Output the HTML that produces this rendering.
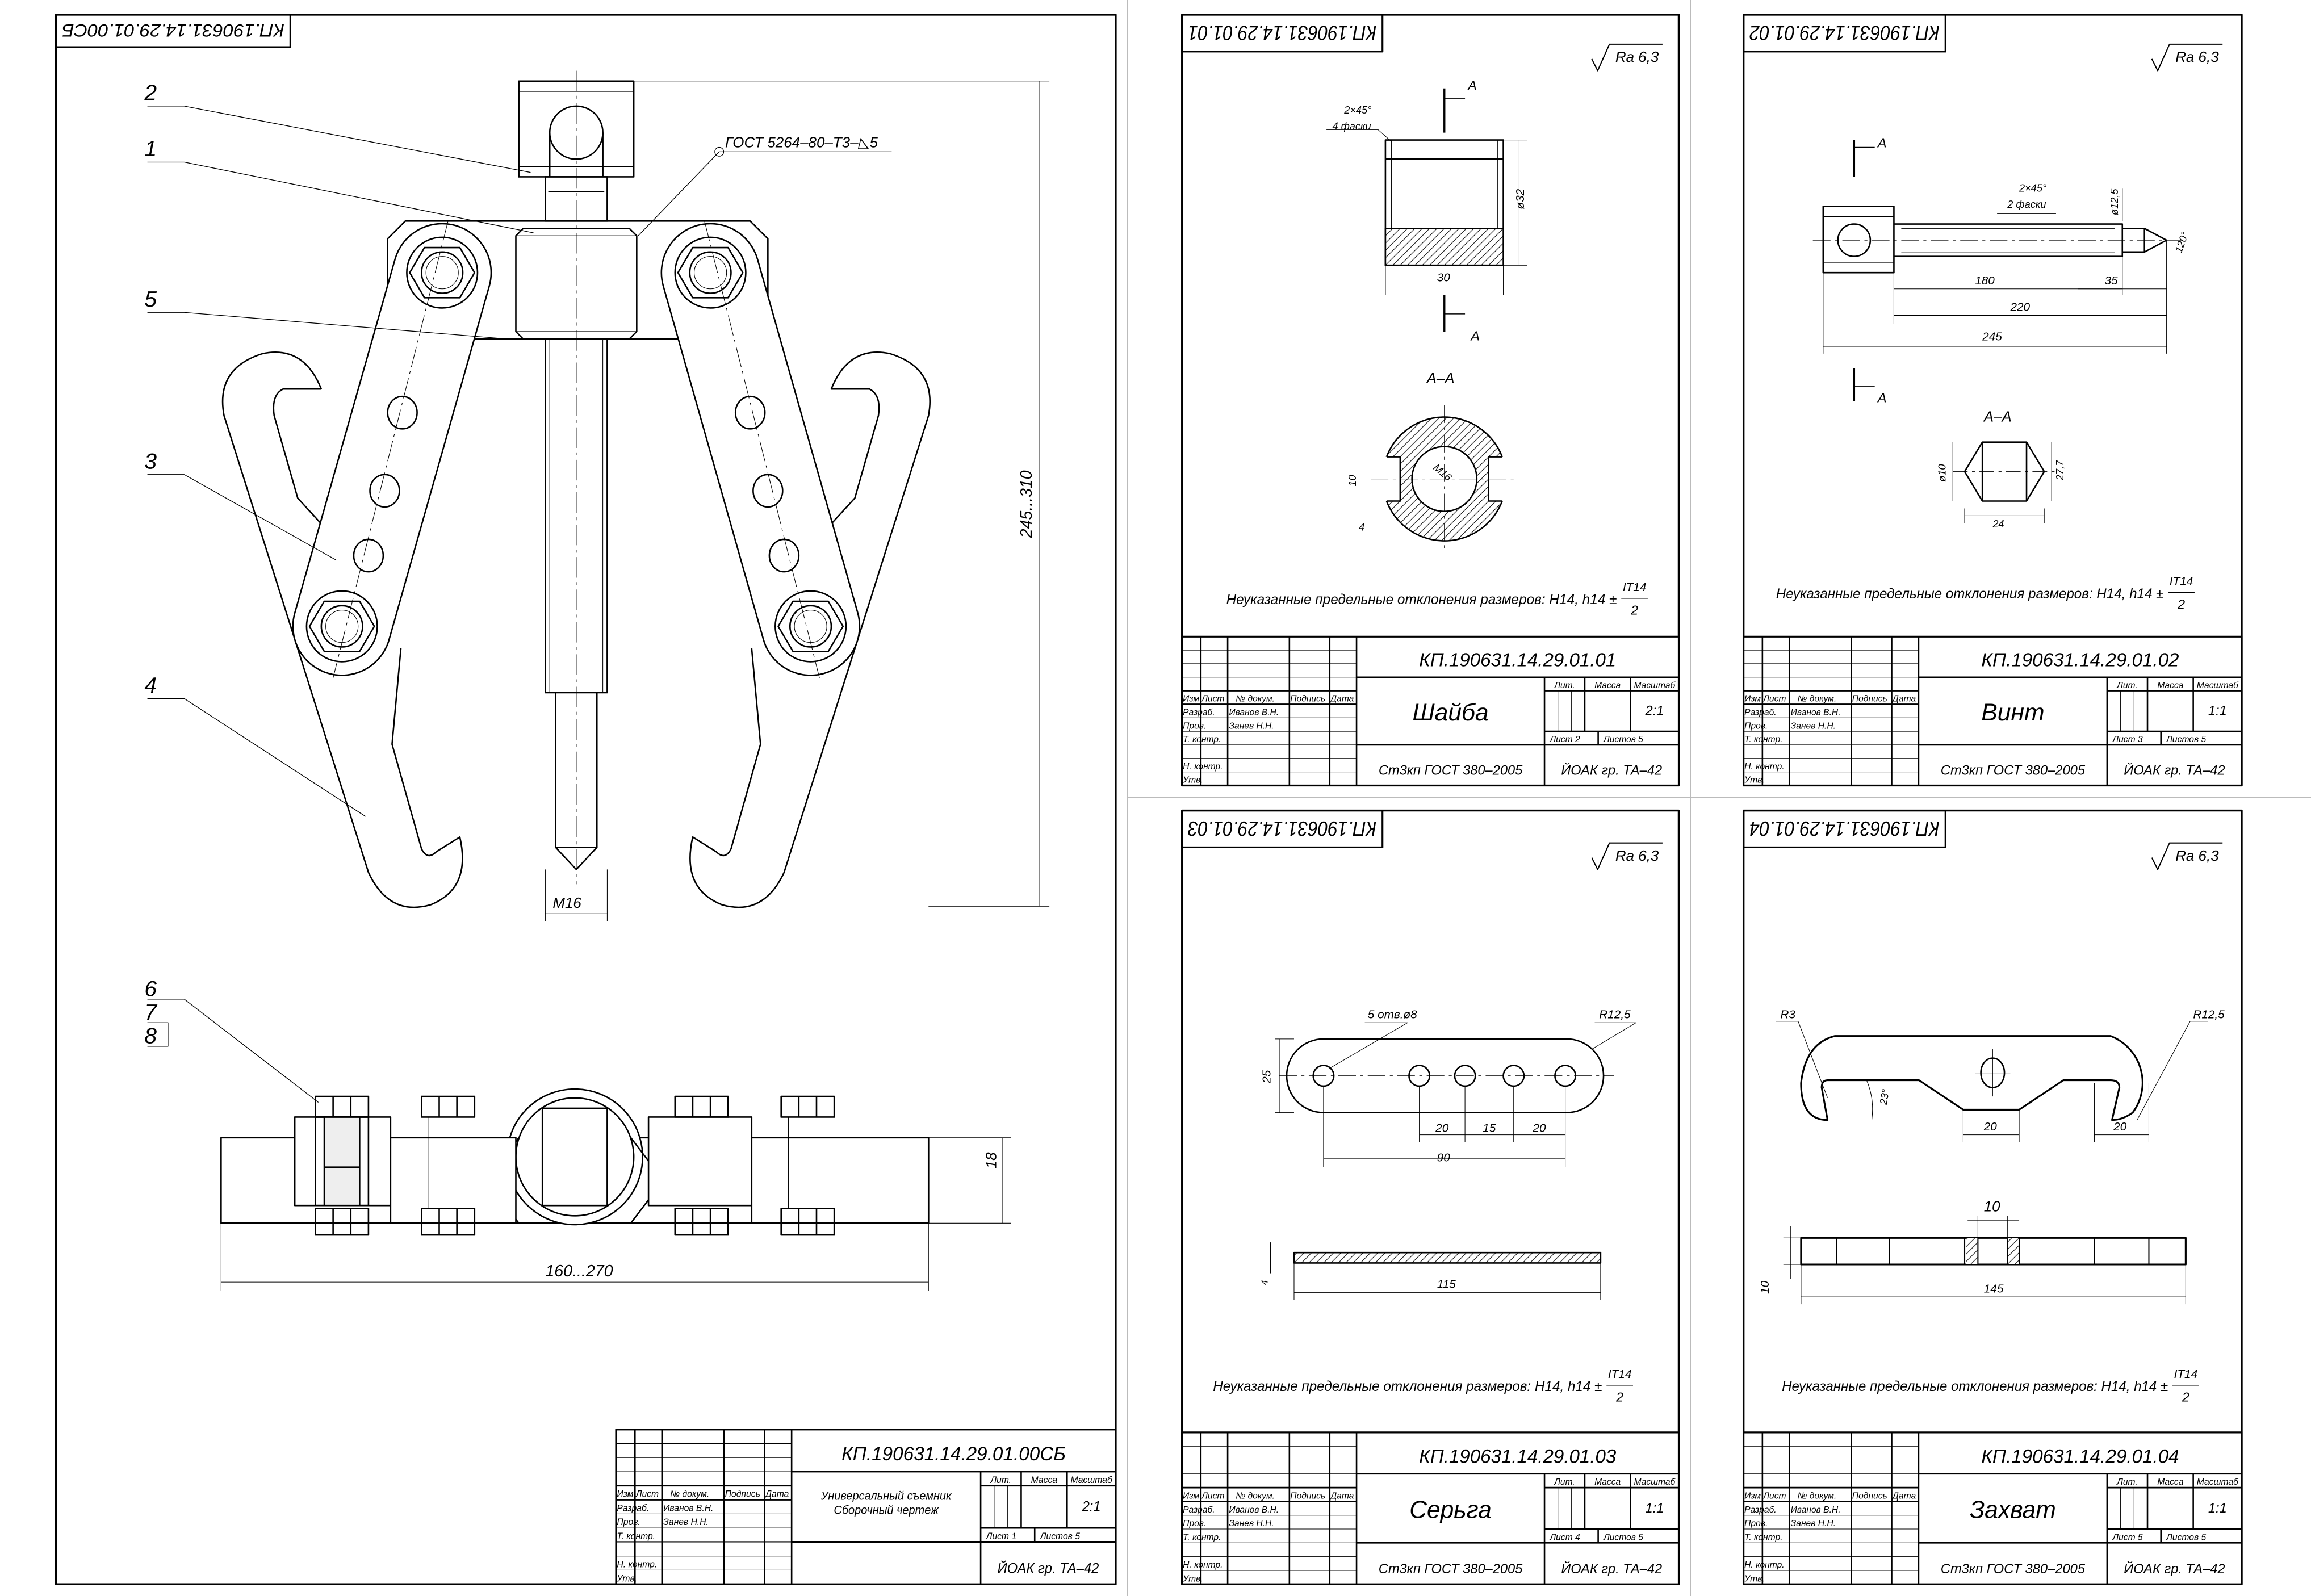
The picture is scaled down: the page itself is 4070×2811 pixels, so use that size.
<!DOCTYPE html>
<html><head><meta charset="utf-8">
<style>
html,body{margin:0;padding:0;background:#fff}
svg{display:block}
text{font-family:"Liberation Sans",sans-serif;font-style:italic;fill:#000}
</style></head><body>
<svg id="s" xmlns="http://www.w3.org/2000/svg" width="4070" height="2811" viewBox="0 0 1568 1083" preserveAspectRatio="none">
<defs>
 <pattern id="h" patternUnits="userSpaceOnUse" width="5" height="5">
  <rect width="5" height="5" fill="#fff"/>
  <path d="M0,5 L5,0 M-1,1 L1,-1 M4,6 L6,4" stroke="#000" stroke-width="0.4"/>
 </pattern>
</defs>
<rect width="1568" height="1083" fill="#fff"/>
<g id="root" fill="none" stroke="#000" stroke-width="1" stroke-linejoin="round">
<line x1="765" y1="0" x2="765" y2="1083" stroke="#bbb" stroke-width="0.6"/>
<line x1="1147" y1="0" x2="1147" y2="1083" stroke="#bbb" stroke-width="0.6"/>
<line x1="765" y1="541" x2="1568" y2="541" stroke="#bbb" stroke-width="0.6"/>

<rect x="38" y="10" width="719" height="1065" stroke-width="1.3"/>
<rect x="802" y="10" width="337" height="523" stroke-width="1.3"/>
<rect x="1183" y="10" width="338" height="523" stroke-width="1.3"/>
<rect x="802" y="550" width="337" height="525" stroke-width="1.3"/>
<rect x="1183" y="550" width="338" height="525" stroke-width="1.3"/>

<g id="main">
 <rect x="352" y="55" width="78" height="65"/>
 <line x1="352" y1="62" x2="430" y2="62" stroke-width="0.5"/>
 <line x1="352" y1="113" x2="430" y2="113" stroke-width="0.5"/>
 <circle cx="391" cy="90" r="18"/>
 <line x1="373" y1="90" x2="373" y2="120"/><line x1="409" y1="90" x2="409" y2="120"/>
 <rect x="370" y="120" width="42" height="30"/>
 <line x1="372" y1="130" x2="410" y2="130" stroke-width="0.5"/>
 <path d="M275,150 L509,150 L521,162 L521,230 L263,230 L263,162 Z"/>
 <path d="M355,155 L427,155 L432,160 L432,225 L427,230 L355,230 L350,225 L350,160 Z" fill="#fff"/>
 <line x1="350" y1="160" x2="432" y2="160" stroke-width="0.5"/>
 <line x1="350" y1="225" x2="432" y2="225" stroke-width="0.5"/>
 <rect x="370" y="230" width="42" height="240" fill="#fff"/>
 <line x1="373" y1="230" x2="373" y2="470" stroke-width="0.4"/>
 <line x1="409" y1="230" x2="409" y2="470" stroke-width="0.4"/>
 <path d="M377,470 L377,575 L391,590 L405,575 L405,470"/>
 <line x1="377" y1="575" x2="405" y2="575" stroke-width="0.5"/>
 <line x1="391" y1="48" x2="391" y2="600" stroke-width="0.4" stroke-dasharray="14,3,2,3"/>

 <g id="jaw">
  <path d="M218,264 Q206,234 178,240 Q146,250 152,282 L250,592 Q264,622 292,614 Q320,603 312,568 L296,578 Q290,584 286,576 L266,505 L272,440" fill="#fff"/>
  <path d="M218,264 L192,264 Q184,268 186,282 L202,338 L224,362"/>
  <path d="M268,176 A33,33 0 0 1 332,194 L264,434 A33,33 0 0 1 200,416 Z" fill="#fff"/>
  <line x1="304" y1="150" x2="226" y2="460" stroke-width="0.4" stroke-dasharray="14,3,2,3"/>
  <circle cx="300" cy="185" r="24"/>
  <polygon points="288,168 312,168 322,185 312,202 288,202 278,185"/>
  <circle cx="300" cy="185" r="14"/><circle cx="300" cy="185" r="11" stroke-width="0.4"/>
  <circle cx="232" cy="425" r="24"/>
  <polygon points="220,408 244,408 254,425 244,442 220,442 210,425"/>
  <circle cx="232" cy="425" r="14"/><circle cx="232" cy="425" r="11" stroke-width="0.4"/>
  <ellipse cx="273" cy="280" rx="10" ry="11"/>
  <ellipse cx="261" cy="333" rx="10" ry="11"/>
  <ellipse cx="250" cy="377" rx="10" ry="11"/>
 </g>
 <use href="#jaw" transform="translate(782,0) scale(-1,1)"/>

 <g stroke-width="0.5">
  <polyline points="100,72 125,72 360,117"/>
  <polyline points="100,110 125,110 362,158"/>
  <polyline points="100,212 125,212 344,230"/>
  <polyline points="100,322 125,322 228,380"/>
  <polyline points="100,474 125,474 248,554"/>
  <polyline points="100,694 114,694 114,710 100,710"/>
  <polyline points="100,678 125,678 216,748"/>
  <polyline points="433,160 488,103 605,103"/>
  <circle cx="488" cy="103" r="3"/>
 </g>
 <g stroke="none" font-size="15">
  <text x="98" y="68">2</text><text x="98" y="106">1</text><text x="98" y="208">5</text>
  <text x="98" y="318">3</text><text x="98" y="470">4</text>
  <text x="98" y="676">6</text><text x="98" y="692">7</text><text x="98" y="708">8</text>
  <text x="492" y="100" font-size="10">ГОСТ 5264–80–Т3–◺5</text>
  <text x="375" y="616" font-size="10">M16</text>
  <text transform="translate(700,365) rotate(-90)" font-size="11">245...310</text>
  <text x="370" y="866" font-size="11">160...270</text>
  <text transform="translate(676,793) rotate(-90)" font-size="10">18</text>
 </g>
 <g stroke-width="0.4">
  <line x1="430" y1="55" x2="712" y2="55"/><line x1="630" y1="615" x2="712" y2="615"/>
  <line x1="705" y1="55" x2="705" y2="615"/>
  <line x1="370" y1="590" x2="370" y2="625"/><line x1="412" y1="590" x2="412" y2="625"/>
  <line x1="370" y1="620" x2="412" y2="620"/>
  <line x1="150" y1="830" x2="150" y2="876"/><line x1="630" y1="830" x2="630" y2="876"/>
  <line x1="150" y1="870" x2="630" y2="870"/>
  <line x1="630" y1="772" x2="686" y2="772"/><line x1="630" y1="830" x2="686" y2="830"/>
  <line x1="680" y1="772" x2="680" y2="830"/>
 </g>

 <rect x="150" y="772" width="480" height="58"/>
 <circle cx="390" cy="785" r="46" fill="#fff"/>
 <circle cx="390" cy="785" r="40"/>
 <rect x="368" y="752" width="44" height="66"/>
 <path d="M352,772 L330,801 L352,830 M428,772 L450,801 L428,830"/>
 <rect x="200" y="758" width="65" height="60" fill="#fff"/>
 <rect x="265" y="772" width="85" height="58" fill="#fff"/>
 <rect x="440" y="758" width="70" height="60" fill="#fff"/>
 <rect x="510" y="772" width="120" height="58" fill="#fff"/>
 <rect x="214" y="758" width="36" height="60"/>
 <rect x="220" y="758" width="24" height="60" fill="#eee"/>
 <line x1="220" y1="792" x2="244" y2="792"/>
 <g id="nut1">
  <rect x="214" y="744" width="36" height="14"/>
  <line x1="226" y1="744" x2="226" y2="758"/><line x1="238" y1="744" x2="238" y2="758"/>
  <rect x="214" y="820" width="36" height="18"/>
  <line x1="226" y1="820" x2="226" y2="838"/><line x1="238" y1="820" x2="238" y2="838"/>
 </g>
 <use href="#nut1" transform="translate(72,0)"/>
 <use href="#nut1" transform="translate(244,0)"/>
 <use href="#nut1" transform="translate(316,0)"/>
 <line x1="291" y1="758" x2="291" y2="820" stroke-width="0.5"/>
 <line x1="535" y1="758" x2="535" y2="820" stroke-width="0.5"/>
</g>

<!-- Sheet 1 -->
<g>
 <rect x="940" y="95" width="80" height="85"/>
 <line x1="944" y1="95" x2="944" y2="180" stroke-width="0.5"/>
 <line x1="1016" y1="95" x2="1016" y2="180" stroke-width="0.5"/>
 <line x1="940" y1="108" x2="1020" y2="108"/>
 <rect x="940" y="155" width="80" height="25" fill="url(#h)"/>
 <line x1="980" y1="60" x2="980" y2="90" stroke-width="1.3"/>
 <line x1="980" y1="200" x2="980" y2="225" stroke-width="1.3"/>
 <path d="M980,67 L994,67 M980,213 L994,213" stroke-width="0.6"/>
 <g stroke-width="0.4"><line x1="940" y1="180" x2="940" y2="200"/><line x1="1020" y1="180" x2="1020" y2="200"/><line x1="940" y1="194" x2="1020" y2="194"/>
 <line x1="1020" y1="95" x2="1036" y2="95"/><line x1="1020" y1="180" x2="1036" y2="180"/><line x1="1030" y1="95" x2="1030" y2="180"/>
 <polyline points="900,88 935,88 944,96"/></g>
 <circle cx="980" cy="325" r="42" fill="url(#h)"/>
 <rect x="936" y="310" width="14" height="30" fill="#fff" stroke="none"/>
 <rect x="1010" y="310" width="14" height="30" fill="#fff" stroke="none"/>
 <path d="M941,310 L950,310 L950,340 L941,340 M1019,310 L1010,310 L1010,340 L1019,340"/>
 <circle cx="980" cy="325" r="22" fill="#fff"/>
 <line x1="930" y1="325" x2="1030" y2="325" stroke-width="0.4" stroke-dasharray="12,3,2,3"/>
 <line x1="980" y1="275" x2="980" y2="375" stroke-width="0.4" stroke-dasharray="12,3,2,3"/>
 <g stroke="none" font-size="9">
  <text x="996" y="61">A</text><text x="998" y="231">A</text>
  <text x="968" y="260" font-size="10">A–A</text>
  <text x="912" y="77" font-size="7">2×45°</text><text x="904" y="88" font-size="7">4 фаски</text>
  <text x="975" y="191" font-size="8">30</text>
  <text transform="translate(1034,142) rotate(-90)" font-size="8">ø32</text>
  <text transform="translate(920,330) rotate(-90)" font-size="7">10</text>
  <text x="922" y="360" font-size="7">4</text>
  <text transform="translate(972,318) rotate(40)" font-size="7">M16</text>
 </g>
</g>

<!-- Sheet 2 -->
<g>
 <rect x="1237" y="140" width="48" height="45"/>
 <line x1="1237" y1="147" x2="1285" y2="147" stroke-width="0.5"/>
 <line x1="1237" y1="178" x2="1285" y2="178" stroke-width="0.5"/>
 <circle cx="1258" cy="163" r="11"/>
 <path d="M1285,152 L1440,152 L1440,174 L1285,174"/>
 <line x1="1290" y1="155" x2="1435" y2="155" stroke-width="0.4"/>
 <line x1="1290" y1="171" x2="1435" y2="171" stroke-width="0.4"/>
 <path d="M1440,155 L1455,155 L1470,163 L1455,171 L1440,171"/>
 <line x1="1455" y1="155" x2="1455" y2="171"/>
 <line x1="1230" y1="163" x2="1480" y2="163" stroke-width="0.4" stroke-dasharray="12,3,2,3"/>
 <line x1="1258" y1="95" x2="1258" y2="120" stroke-width="1.3"/>
 <line x1="1258" y1="250" x2="1258" y2="272" stroke-width="1.3"/>
 <path d="M1258,100 L1272,100 M1258,262 L1272,262" stroke-width="0.6"/>
 <g stroke-width="0.4">
  <line x1="1285" y1="185" x2="1285" y2="220"/><line x1="1440" y1="174" x2="1440" y2="200"/><line x1="1470" y1="163" x2="1470" y2="240"/>
  <line x1="1237" y1="185" x2="1237" y2="240"/>
  <line x1="1285" y1="196" x2="1440" y2="196"/><line x1="1410" y1="196" x2="1470" y2="196"/>
  <line x1="1285" y1="214" x2="1470" y2="214"/><line x1="1237" y1="235" x2="1470" y2="235"/>
  <line x1="1440" y1="150" x2="1440" y2="128"/>
  <line x1="1355" y1="145" x2="1395" y2="145"/>
 </g>
 <polygon points="1345,300 1375,300 1387,320 1375,340 1345,340 1333,320"/>
 <line x1="1345" y1="300" x2="1345" y2="340"/><line x1="1375" y1="300" x2="1375" y2="340"/>
 <line x1="1325" y1="320" x2="1395" y2="320" stroke-width="0.4" stroke-dasharray="10,3,2,3"/>
 <g stroke-width="0.4"><line x1="1333" y1="345" x2="1333" y2="355"/><line x1="1387" y1="345" x2="1387" y2="355"/><line x1="1333" y1="350" x2="1387" y2="350"/>
  <line x1="1392" y1="300" x2="1392" y2="340"/><line x1="1325" y1="300" x2="1325" y2="340"/></g>
 <g stroke="none" font-size="9">
  <text x="1274" y="100">A</text><text x="1274" y="273">A</text>
  <text x="1346" y="286" font-size="10">A–A</text>
  <text x="1370" y="130" font-size="7">2×45°</text><text x="1362" y="141" font-size="7">2 фаски</text>
  <text x="1340" y="193" font-size="8">180</text><text x="1428" y="193" font-size="8">35</text>
  <text x="1364" y="211" font-size="8">220</text><text x="1345" y="231" font-size="8">245</text>
  <text transform="translate(1437,146) rotate(-90)" font-size="7">ø12,5</text>
  <text transform="translate(1480,172) rotate(-70)" font-size="7">120°</text>
  <text transform="translate(1320,327) rotate(-90)" font-size="7">ø10</text>
  <text transform="translate(1400,326) rotate(-90)" font-size="7">27,7</text>
  <text x="1352" y="358" font-size="7">24</text>
 </g>
</g>

<!-- Sheet 3 -->
<g>
 <path d="M898,705 L1063,705 A25,25 0 0 1 1063,755 L898,755 A25,25 0 0 1 898,705 Z"/>
 <circle cx="898" cy="730" r="7"/><circle cx="963" cy="730" r="7"/><circle cx="994" cy="730" r="7"/>
 <circle cx="1027" cy="730" r="7"/><circle cx="1062" cy="730" r="7"/>
 <line x1="868" y1="730" x2="1095" y2="730" stroke-width="0.4" stroke-dasharray="12,3,2,3"/>
 <rect x="878" y="850" width="208" height="7" fill="url(#h)"/>
 <g stroke-width="0.4">
  <line x1="898" y1="737" x2="898" y2="792"/><line x1="1062" y1="737" x2="1062" y2="792"/>
  <line x1="898" y1="786" x2="1062" y2="786"/>
  <line x1="963" y1="737" x2="963" y2="775"/><line x1="994" y1="737" x2="994" y2="775"/><line x1="1027" y1="737" x2="1027" y2="775"/>
  <line x1="963" y1="770" x2="1062" y2="770"/>
  <line x1="878" y1="857" x2="878" y2="882"/><line x1="1086" y1="857" x2="1086" y2="882"/><line x1="878" y1="877" x2="1086" y2="877"/>
  <line x1="865" y1="705" x2="878" y2="705"/><line x1="865" y1="755" x2="878" y2="755"/><line x1="868" y1="705" x2="868" y2="755"/>
  <line x1="862" y1="843" x2="862" y2="864"/>
  <polyline points="926,694 955,694 902,725"/><polyline points="1082,694 1110,694 1080,712"/>
 </g>
 <g stroke="none" font-size="8">
  <text x="928" y="691">5 отв.ø8</text><text x="1085" y="691">R12,5</text>
  <text x="974" y="768">20</text><text x="1006" y="768">15</text><text x="1040" y="768">20</text>
  <text x="975" y="788">90</text><text x="975" y="874">115</text>
  <text transform="translate(862,735) rotate(-90)">25</text>
  <text transform="translate(860,872) rotate(-90)" font-size="6">4</text>
 </g>
</g>

<!-- Sheet 4 -->
<g>
 <path d="M1245,703 L1432,703 A34,34 0 0 1 1447,755 Q1440,760 1433,760 L1438,738 Q1438,733 1432,733 L1400,733 L1370,753 L1332,753 L1302,733 L1240,733 Q1236,733 1236,738 L1240,760 Q1222,760 1222,735 Q1225,708 1245,703 Z" stroke-width="1.2"/>
 <ellipse cx="1352" cy="728" rx="8" ry="10"/>
 <line x1="1352" y1="712" x2="1352" y2="744" stroke-width="0.4"/><line x1="1340" y1="728" x2="1364" y2="728" stroke-width="0.4"/>
 <rect x="1222" y="840" width="261" height="18" stroke-width="1.2"/>
 <rect x="1334" y="840" width="8" height="18" fill="url(#h)" stroke="none"/>
 <rect x="1362" y="840" width="8" height="18" fill="url(#h)" stroke="none"/>
 <g stroke-width="0.8">
  <line x1="1246" y1="840" x2="1246" y2="858"/><line x1="1282" y1="840" x2="1282" y2="858"/>
  <line x1="1333" y1="840" x2="1333" y2="858"/><line x1="1342" y1="840" x2="1342" y2="858"/>
  <line x1="1362" y1="840" x2="1362" y2="858"/><line x1="1370" y1="840" x2="1370" y2="858"/>
  <line x1="1421" y1="840" x2="1421" y2="858"/><line x1="1458" y1="840" x2="1458" y2="858"/>
 </g>
 <g stroke-width="0.4">
  <line x1="1332" y1="753" x2="1332" y2="775"/><line x1="1370" y1="753" x2="1370" y2="775"/><line x1="1332" y1="770" x2="1370" y2="770"/>
  <line x1="1421" y1="735" x2="1421" y2="775"/><line x1="1458" y1="735" x2="1458" y2="775"/><line x1="1421" y1="770" x2="1458" y2="770"/>
  <line x1="1342" y1="825" x2="1342" y2="840"/><line x1="1362" y1="825" x2="1362" y2="840"/><line x1="1335" y1="828" x2="1370" y2="828"/>
  <line x1="1222" y1="858" x2="1222" y2="885"/><line x1="1483" y1="858" x2="1483" y2="885"/><line x1="1222" y1="880" x2="1483" y2="880"/>
  <line x1="1210" y1="840" x2="1222" y2="840"/><line x1="1210" y1="858" x2="1222" y2="858"/><line x1="1215" y1="832" x2="1215" y2="868"/>
  <polyline points="1205,693 1220,693 1240,745"/><polyline points="1498,693 1486,693 1450,760"/>
  <path d="M1266,732 Q1272,745 1270,760"/>
 </g>
 <g stroke="none" font-size="8">
  <text x="1208" y="691">R3</text><text x="1488" y="691">R12,5</text>
  <text x="1346" y="767">20</text><text x="1434" y="767">20</text>
  <text x="1346" y="822" font-size="10">10</text><text x="1346" y="877">145</text>
  <text transform="translate(1200,878) rotate(-90)">10</text>
  <text transform="translate(1280,750) rotate(-80)" font-size="7">23°</text>
 </g>
</g>
<g id="gen"></g>
</g>
</svg>
<script>
(function(){
var NS="http://www.w3.org/2000/svg",G=document.getElementById("gen");
function el(t,a,p,txt){var e=document.createElementNS(NS,t);for(var k in a)e.setAttribute(k,a[k]);if(txt!==undefined)e.textContent=txt;(p||G).appendChild(e);return e;}
function L(g,x1,y1,x2,y2,w){el("line",{x1:x1,y1:y1,x2:x2,y2:y2,"stroke-width":w||0.5},g);}
function T(g,x,y,s,txt,anchor){return el("text",{x:x,y:y,"font-size":s,stroke:"none","text-anchor":anchor||"start"},g,txt);}
function block(x0,y0,w,h,d){
  var sx=w/185,sy=h/55;
  var g=el("g",{transform:"translate("+x0+","+y0+") scale("+sx+","+sy+")","stroke-width":0.5});
  var tw=1/Math.min(sx,sy);
  el("rect",{x:0,y:0,width:185,height:55,"stroke-width":tw*1.2,fill:"#fff"},g);
  [7,17,40,55,65].forEach(function(c){L(g,c,0,c,55,tw*1);});
  for(var r=5;r<55;r+=5){L(g,0,r,65,r,(r==20||r==25)?tw*1:tw*0.4);}
  L(g,65,15,185,15,tw*1);L(g,65,40,185,40,tw*1);L(g,135,15,135,55,tw*1);
  L(g,135,20,185,20,tw*1);L(g,135,35,185,35,tw*1);L(g,150,15,150,35,tw*1);L(g,167,15,167,35,tw*1);
  L(g,140,20,140,35,tw*0.4);L(g,145,20,145,35,tw*0.4);L(g,155,35,155,40,tw*1);
  T(g,125,11,7,d.code,"middle");
  if(d.name2){T(g,100,25,4.2,d.name,"middle");T(g,100,30,4.2,d.name2,"middle");}
  else T(g,100,31,9,d.name,"middle");
  T(g,100,51,5,d.mat,"middle");T(g,160,51,5,"ЙОАК гр. ТА–42","middle");
  T(g,142.5,19,3.3,"Лит.","middle");T(g,158.5,19,3.3,"Масса","middle");T(g,176,19,3.3,"Масштаб","middle");
  T(g,176,29,5,d.sc,"middle");
  T(g,137,39,3.3,"Лист "+d.l);T(g,157,39,3.3,"Листов 5");
  T(g,0.3,24,3.3,"Изм");T(g,7.3,24,3.3,"Лист");T(g,20,24,3.3,"№ докум.");T(g,40.3,24,3.3,"Подпись");T(g,55.3,24,3.3,"Дата");
  T(g,0.3,29,3.3,"Разраб.");T(g,17.5,29,3.3,"Иванов В.Н.");
  T(g,0.3,34,3.3,"Пров.");T(g,17.5,34,3.3,"Занев Н.Н.");
  T(g,0.3,39,3.3,"Т. контр.");T(g,0.3,49,3.3,"Н. контр.");T(g,0.3,54,3.3,"Утв.");
}
block(418,970,339,105,{code:"КП.190631.14.29.01.00СБ",name:"Универсальный съемник",name2:"Сборочный чертеж",mat:"",sc:"2:1",l:"1"});
block(802,432,337,101,{code:"КП.190631.14.29.01.01",name:"Шайба",mat:"Ст3кп ГОСТ 380–2005",sc:"2:1",l:"2"});
block(1183,432,338,101,{code:"КП.190631.14.29.01.02",name:"Винт",mat:"Ст3кп ГОСТ 380–2005",sc:"1:1",l:"3"});
block(802,972,337,103,{code:"КП.190631.14.29.01.03",name:"Серьга",mat:"Ст3кп ГОСТ 380–2005",sc:"1:1",l:"4"});
block(1183,972,338,103,{code:"КП.190631.14.29.01.04",name:"Захват",mat:"Ст3кп ГОСТ 380–2005",sc:"1:1",l:"5"});
function stamp(x,y,w,h,txt){
  el("rect",{x:x,y:y,width:w,height:h,"stroke-width":1.2});
  el("text",{x:0,y:0,"font-size":h*0.55,stroke:"none","text-anchor":"middle",textLength:w-8,lengthAdjust:"spacingAndGlyphs",transform:"translate("+(x+w/2)+","+(y+h*0.3)+") rotate(180)"},G,txt);
}
stamp(38,10,159,22,"КП.190631.14.29.01.00СБ");
stamp(802,10,136,25,"КП.190631.14.29.01.01");
stamp(1183,10,137,25,"КП.190631.14.29.01.02");
stamp(802,550,136,25,"КП.190631.14.29.01.03");
stamp(1183,550,137,25,"КП.190631.14.29.01.04");
function ra(x,y){
  el("polyline",{points:(x)+","+(y+4)+" "+(x+4)+","+(y+12)+" "+(x+12)+","+(y-6)+" "+(x+48)+","+(y-6),"stroke-width":0.8});
  T(G,x+16,y+6,10,"Ra 6,3");
}
ra(1080,36);ra(1460,36);ra(1080,578);ra(1460,578);
function note(x,y,xe){
  el("text",{x:x,y:y,"font-size":9.5,stroke:"none",textLength:xe-x,lengthAdjust:"spacingAndGlyphs"},G,"Неуказанные предельные отклонения размеров: H14, h14 ±");
  T(G,xe+12,y-9,8,"IT14","middle");L(G,xe+3,y-4,xe+21,y-4,0.5);T(G,xe+12,y+7,9,"2","middle");
}
note(832,410,1097);note(1205,406,1468);note(823,944,1087);note(1209,944,1471);
})();
</script>
</body></html>
